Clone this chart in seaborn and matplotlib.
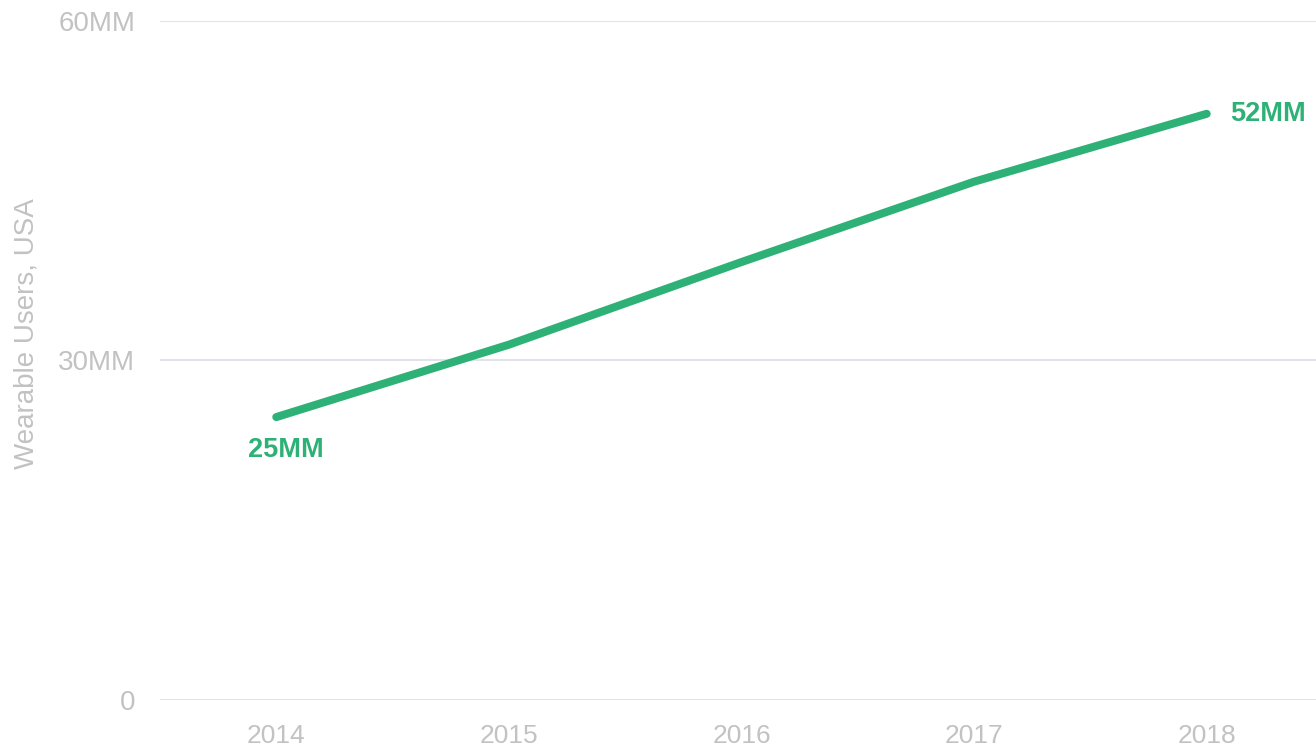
import matplotlib
matplotlib.use("Agg")
import matplotlib.pyplot as plt
import seaborn as sns
import pandas as pd

# data
years = [2014, 2015, 2016, 2017, 2018]
users_mm = [25.0, 31.4, 38.7, 45.8, 51.8]
y_ticks = [0, 30, 60]
y_tick_labels = ["0", "30MM", "60MM"]

GREEN = "#2eb176"
GREY_TXT = "#c2c2c2"
GRID = "#dde0e6"

sns.set_style("white")
plt.rcParams["font.family"] = ["Liberation Sans", "DejaVu Sans"]

df = pd.DataFrame({"year": years, "users": users_mm})

fig = plt.figure(figsize=(13.16, 7.46), dpi=100)
ax = fig.add_axes([160 / 1316, 46 / 746, 1156 / 1316, 679 / 746])

sns.lineplot(data=df, x="year", y="users", ax=ax, color=GREEN,
             linewidth=5.8, solid_capstyle="round", clip_on=False)

ax.set_xlim(2013.5, 2018.47)
ax.set_ylim(0, 60)
ax.set_yticks(y_ticks)
ax.set_yticklabels(y_tick_labels)
ax.set_xticks(years)
ax.set_xticklabels([str(y) for y in years])

ax.grid(axis="y", color=GRID, linewidth=1.3)
ax.set_axisbelow(True)
for s in ax.spines.values():
    s.set_visible(False)

ax.tick_params(axis="y", length=0, pad=18, labelsize=20, labelcolor=GREY_TXT)
ax.tick_params(axis="x", length=0, pad=17, labelsize=19, labelcolor=GREY_TXT)

ax.set_xlabel("")
ax.set_ylabel("Wearable Users, USA", fontsize=20, color=GREY_TXT)
ax.yaxis.set_label_coords(-0.104, 0.54)

# end labels
ax.annotate(f"{users_mm[0]:.0f}MM", (years[0], users_mm[0]), xytext=(7, -24),
            textcoords="offset points", ha="center", va="center",
            fontsize=19.5, fontweight="bold", color=GREEN)
ax.annotate(f"{users_mm[-1]:.0f}MM", (years[-1], users_mm[-1]), xytext=(17, 0),
            textcoords="offset points", ha="left", va="center",
            fontsize=19.5, fontweight="bold", color=GREEN)

fig.savefig("out.png", dpi=100)
